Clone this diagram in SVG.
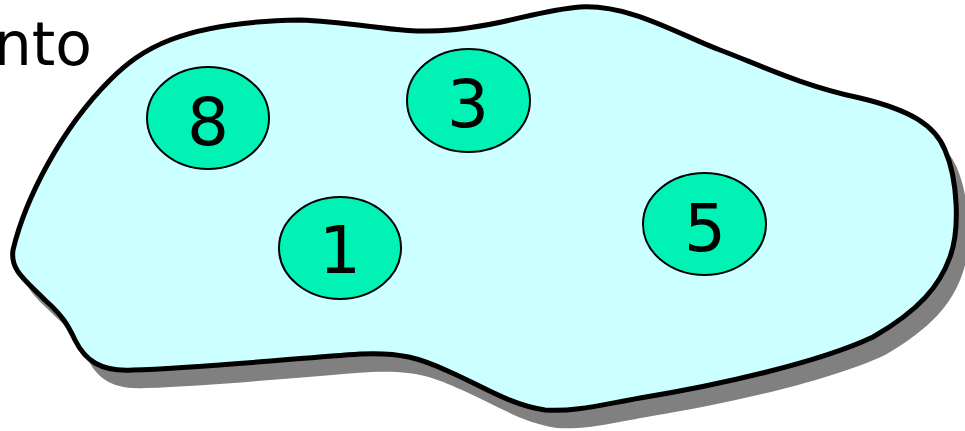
<svg xmlns="http://www.w3.org/2000/svg" width="965" height="431" viewBox="0 0 965 431">
<style>
.lbl{font-family:"DejaVu Sans",Verdana,sans-serif;font-size:66px;fill:#000;text-anchor:middle}
.el{fill:#00F2B4;stroke:#000;stroke-width:2}
</style>
<defs>
<path id="blob" d="M 13 250 C 25 200, 60 130, 110 80 C 140 50, 180 22, 300 20 C 360 22, 400 35, 450 30 C 500 26, 540 10, 580 7 C 630 4, 680 35, 720 50 C 760 65, 800 85, 860 98 C 910 110, 935 125, 945 150 C 958 180, 960 230, 950 257 C 940 285, 920 310, 873 337 C 820 362, 720 385, 640 398 C 600 405, 575 412, 545 410 C 510 405, 480 385, 450 372 C 420 358, 400 352, 360 354 C 300 358, 200 368, 133 370 C 100 372, 85 360, 75 340 C 68 325, 62 315, 45 300 C 25 280, 10 270, 13 250 Z"/>
</defs>
<rect width="965" height="431" fill="#fff"/>
<g id="set">
<use href="#blob" transform="translate(12,18)" fill="#808080"/>
<use href="#blob" fill="#CCFFFF" stroke="#000" stroke-width="5"/>
</g>
<text x="92" y="65" font-family="'DejaVu Sans',Verdana,sans-serif" font-size="60" text-anchor="end">nto</text>
<g id="n8"><ellipse class="el" cx="208" cy="118" rx="61" ry="51"/><text class="lbl" x="208" y="145">8</text></g>
<g id="n3"><ellipse class="el" cx="468.5" cy="100.5" rx="61.5" ry="51.5"/><text class="lbl" x="468" y="127">3</text></g>
<g id="n1"><ellipse class="el" cx="340" cy="248" rx="61" ry="51"/><text class="lbl" x="340" y="273">1</text></g>
<g id="n5"><ellipse class="el" cx="704.5" cy="224" rx="61.5" ry="51"/><text class="lbl" x="705" y="251">5</text></g>
<g id="connectors"/>
</svg>
